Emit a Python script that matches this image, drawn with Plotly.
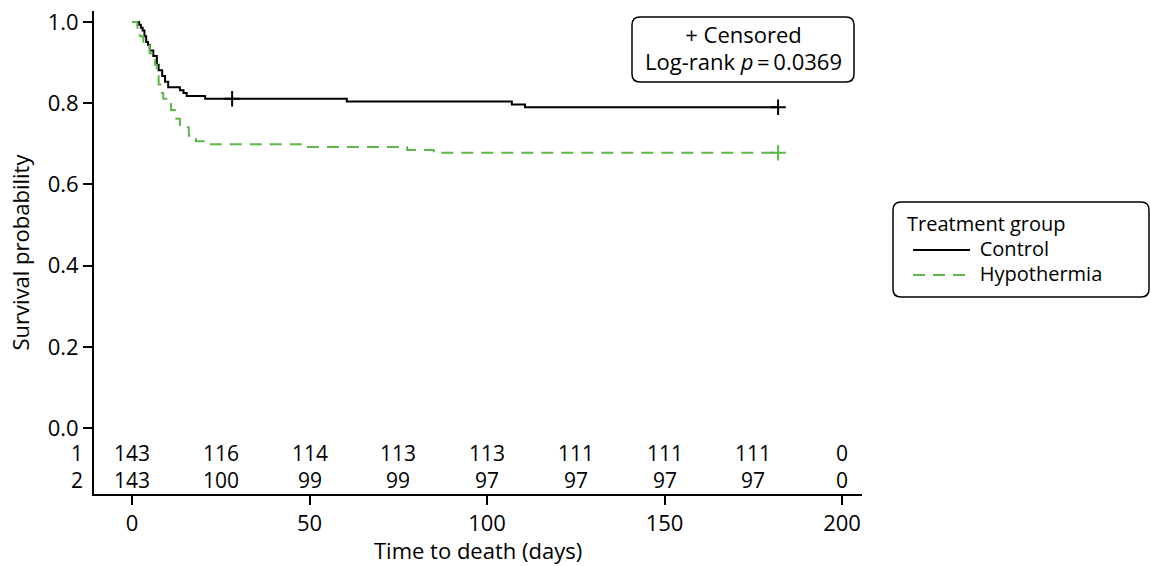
import plotly.graph_objects as go

# ---- data ----
control_t = [0, 2.0, 2.5, 3.0, 3.5, 4.0, 4.5, 5.0, 6.0, 7.0, 7.5, 8.5, 9.3, 10.2, 13.5, 14.5, 15.4, 20.6, 60.5, 107.0, 110.7, 182.0]
control_s = [1.000, 0.993, 0.986, 0.979, 0.965, 0.951, 0.944, 0.930, 0.916, 0.895, 0.881, 0.867, 0.853, 0.839, 0.832, 0.825, 0.818, 0.811, 0.804, 0.797, 0.790, 0.790]
control_cens_t = [28.2, 182.0]
control_cens_s = [0.811, 0.790]

hypo_t = [0, 1.5, 2.2, 3.2, 5.0, 6.5, 7.0, 7.5, 8.0, 8.8, 11.0, 12.5, 13.5, 16.0, 18.0, 21.0, 48.0, 77.5, 85.0, 182.0]
hypo_s = [1.000, 0.986, 0.965, 0.944, 0.923, 0.895, 0.874, 0.846, 0.825, 0.811, 0.783, 0.762, 0.741, 0.720, 0.706, 0.699, 0.692, 0.685, 0.678, 0.678]
hypo_cens_t = [182.0]
hypo_cens_s = [0.678]

risk_days = [0, 25, 50, 75, 100, 125, 150, 175, 200]
risk_control = [143, 116, 114, 113, 113, 111, 111, 111, 0]
risk_hypo = [143, 100, 99, 99, 97, 97, 97, 97, 0]
risk_labels = ["1", "2"]

group_names = ["Control", "Hypothermia"]
legend_title = "Treatment group"

x_ticks = [0, 50, 100, 150, 200]
y_ticks = [0.0, 0.2, 0.4, 0.6, 0.8, 1.0]

# ---- styling ----
FONT = "Open Sans"
FS = 22          # axis / box text
FS_ROW = 21      # at-risk table
FS_LEG = 20      # legend
BLACK = "#000000"
GREEN = "#5cb847"
DASH = "12px,8px"

W_PX, H_PX = 1151, 566
L, R, T, B = 94, 862, 11, 494     # plot area in pixels
PW, PH = R - L, B - T

def px(xp):
    return (xp - L) / PW

def py(yp):
    return (B - yp) / PH

def rounded_rect(x0, y0, x1, y1, r=8):
    def P(x, y):
        return f"{px(x):.5f},{py(y):.5f}"
    return (f"M{P(x0 + r, y0)} L{P(x1 - r, y0)} Q{P(x1, y0)} {P(x1, y0 + r)} "
            f"L{P(x1, y1 - r)} Q{P(x1, y1)} {P(x1 - r, y1)} "
            f"L{P(x0 + r, y1)} Q{P(x0, y1)} {P(x0, y1 - r)} "
            f"L{P(x0, y0 + r)} Q{P(x0, y0)} {P(x0 + r, y0)} Z")

def sized(s, size):
    return f'<span style="font-size:{size}px">{s}</span>'

fig = go.Figure()

fig.add_trace(go.Scatter(x=control_t, y=control_s, mode="lines", line_shape="hv",
                         line=dict(color=BLACK, width=2), name=group_names[0], showlegend=False))
fig.add_trace(go.Scatter(x=hypo_t, y=hypo_s, mode="lines", line_shape="hv",
                         line=dict(color=GREEN, width=2, dash=DASH), name=group_names[1], showlegend=False))
fig.add_trace(go.Scatter(x=control_cens_t, y=control_cens_s, mode="markers",
                         marker=dict(symbol="cross-thin", size=11, line=dict(color=BLACK, width=2)),
                         showlegend=False, hoverinfo="skip"))
fig.add_trace(go.Scatter(x=hypo_cens_t, y=hypo_cens_s, mode="markers",
                         marker=dict(symbol="cross-thin", size=11, line=dict(color=GREEN, width=2)),
                         showlegend=False, hoverinfo="skip"))

y_per_px = 1.0 / 406.0
row_y = [(428 - 453) * y_per_px, (428 - 480) * y_per_px]
ymin = (428 - B) * y_per_px
ymax = 1.0 + (22 - T) * y_per_px
x_per_px = 1.0 / 3.55
xmin = (L - 132) * x_per_px
xmax = (R - 132) * x_per_px

annotations = []
for row, vals in zip(row_y, [risk_control, risk_hypo]):
    for d, v in zip(risk_days, vals):
        annotations.append(dict(x=d, y=row, xref="x", yref="y", text=str(v), showarrow=False, borderpad=0,
                                font=dict(family=FONT, size=FS_ROW, color=BLACK), xanchor="center", yanchor="middle"))
for row, lab in zip(row_y, risk_labels):
    annotations.append(dict(x=0, y=row, xref="paper", yref="y", text=lab, showarrow=False, xshift=-10, borderpad=0,
                            font=dict(family=FONT, size=FS_ROW, color=BLACK), xanchor="right", yanchor="middle"))

# x-axis title
annotations.append(dict(x=0.5, y=py(550), xref="paper", yref="paper", text="Time to death (days)",
                        showarrow=False, borderpad=0, font=dict(family=FONT, size=FS, color=BLACK),
                        xanchor="center", yanchor="middle"))

# censored / log-rank box (line spacing ~27 px)
annotations.append(dict(x=px(743), y=py(47), xref="paper", yref="paper",
                        text=sized("+ Censored", FS) + "<br>" + sized("Log-rank <i>p</i>\u2009=\u20090.0369", FS),
                        showarrow=False, borderpad=0, align="center",
                        font=dict(family=FONT, size=21, color=BLACK), xanchor="center", yanchor="middle"))

# legend (drawn by hand for the rounded frame and long line samples; line spacing ~25 px)
indent = "\u00a0" * 14
legend_text = "<br>".join([sized(legend_title, FS_LEG)] + [sized(indent + g, FS_LEG) for g in group_names])
annotations.append(dict(x=px(906), y=py(248), xref="paper", yref="paper", text=legend_text, showarrow=False,
                        borderpad=0, align="left", font=dict(family=FONT, size=19.2, color=BLACK),
                        xanchor="left", yanchor="middle"))

shapes = [
    dict(type="path", xref="paper", yref="paper", path=rounded_rect(632, 17, 854, 82),
         line=dict(color=BLACK, width=1.5)),
    dict(type="path", xref="paper", yref="paper", path=rounded_rect(893, 202, 1149, 297),
         line=dict(color=BLACK, width=1.5)),
    dict(type="line", xref="paper", yref="paper", x0=px(913), x1=px(970), y0=py(250), y1=py(250),
         line=dict(color=BLACK, width=2)),
    dict(type="line", xref="paper", yref="paper", x0=px(913), x1=px(970), y0=py(275), y1=py(275),
         line=dict(color=GREEN, width=2, dash=DASH)),
]

fig.update_layout(
    width=W_PX, height=H_PX,
    margin=dict(l=L, r=W_PX - R, t=T, b=H_PX - B, autoexpand=False),
    paper_bgcolor="white", plot_bgcolor="white",
    font=dict(family=FONT, size=FS, color=BLACK),
    annotations=annotations, shapes=shapes, showlegend=False,
)
fig.update_xaxes(range=[xmin, xmax], tickvals=x_ticks, ticktext=[str(v) for v in x_ticks],
                 showline=True, linecolor=BLACK, linewidth=2, ticks="outside", ticklen=9, tickwidth=2,
                 tickcolor=BLACK, showgrid=False, zeroline=False, automargin=False)
fig.update_yaxes(range=[ymin, ymax], tickvals=y_ticks, ticktext=[f"{v:.1f}" for v in y_ticks],
                 showline=True, linecolor=BLACK, linewidth=2, ticks="outside", ticklen=9, tickwidth=2,
                 tickcolor=BLACK, showgrid=False, zeroline=False, automargin=False,
                 title=dict(text="Survival probability", standoff=12, font=dict(family=FONT, size=FS)))

# remove the default 8px page margin so the figure fills the window exactly
fig.write_html("out.html", config={"displayModeBar": False},
               post_script="document.body.style.margin='0';")
